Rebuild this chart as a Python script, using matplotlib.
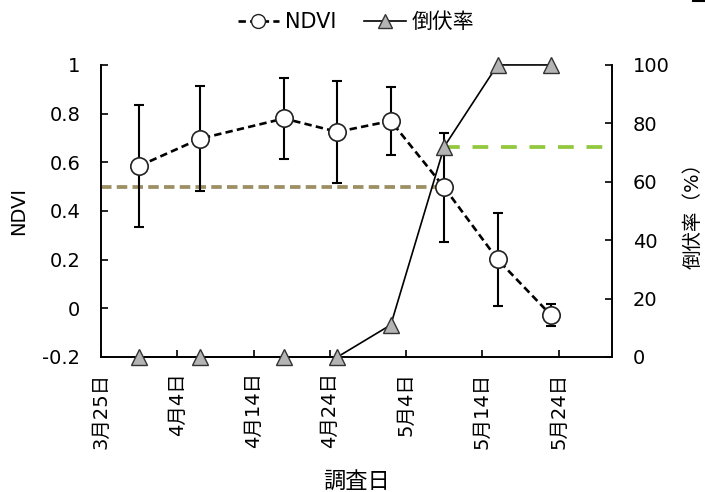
import datetime as dt
import matplotlib
matplotlib.use("Agg")
import matplotlib.pyplot as plt
import matplotlib.dates as mdates
from matplotlib.lines import Line2D
from matplotlib.ticker import FuncFormatter

plt.rcParams['font.family'] = ['DejaVu Sans', 'Noto Sans CJK JP']

# survey dates and measurements
survey_dates = ["2021-03-30", "2021-04-07", "2021-04-18", "2021-04-25",
                "2021-05-02", "2021-05-09", "2021-05-16", "2021-05-23"]
ndvi = [0.585, 0.697, 0.780, 0.725, 0.770, 0.497, 0.201, -0.028]
ndvi_err = [0.25, 0.215, 0.165, 0.21, 0.14, 0.225, 0.19, 0.045]
lodging = [0, 0, 0, 0, 11, 72, 100, 100]

# threshold lines
ndvi_threshold = 0.5
ndvi_threshold_end = "2021-05-08"
tick_dates = ["2021-03-25", "2021-04-04", "2021-04-14", "2021-04-24",
              "2021-05-04", "2021-05-14", "2021-05-24"]
x_end = "2021-05-31"

to_dt = lambda s: dt.datetime.strptime(s, "%Y-%m-%d")
x = [to_dt(s) for s in survey_dates]
ticks = [to_dt(s) for s in tick_dates]

fig = plt.figure(figsize=(7.05, 4.92), dpi=100)
ax1 = fig.add_axes([0.1433, 0.2744, 0.7247, 0.5936])
ax2 = ax1.twinx()

# NDVI with error bars
ax1.errorbar(x, ndvi, yerr=ndvi_err, fmt='none', ecolor='black',
             elinewidth=1.5, capsize=3.5, capthick=1.5, zorder=2)
ax1.plot(x, ndvi, color='black', linestyle=(0, (2.8, 1.6)), linewidth=1.9,
         marker='o', markersize=12.5, markerfacecolor='white',
         markeredgecolor='#222222', markeredgewidth=1.2, zorder=3)
ax1.plot([ticks[0], to_dt(ndvi_threshold_end)], [ndvi_threshold] * 2,
         color='#9c8f62', linestyle=(0, (2.8, 1.4)), linewidth=2.7, zorder=1)

# lodging rate on the right axis
ax2.plot(x, lodging, color='black', linewidth=1.2, marker='^',
         markersize=12, markerfacecolor='#b4b4b4', markeredgecolor='#333333',
         markeredgewidth=1.0, clip_on=False, zorder=3)
ax2.plot([x[5], to_dt(x_end)], [lodging[5]] * 2, color='#92c83e',
         linestyle=(0, (4.2, 3.4)), linewidth=2.7, zorder=1)

ax1.set_xlim(ticks[0], to_dt(x_end))
ax1.set_ylim(-0.2, 1)
ax1.set_yticks([-0.2, 0, 0.2, 0.4, 0.6, 0.8, 1])
ax1.yaxis.set_major_formatter(FuncFormatter(lambda v, p: f"{v:g}" if abs(v) > 1e-9 else "0"))
ax2.set_ylim(0, 100)
ax2.set_yticks([0, 20, 40, 60, 80, 100])

ax1.set_xticks(ticks)
ax1.xaxis.set_major_formatter(
    FuncFormatter(lambda v, p: "{}月{}日".format(mdates.num2date(v).month, mdates.num2date(v).day)))
for lbl in ax1.get_xticklabels():
    lbl.set_rotation(90)

for ax in (ax1, ax2):
    ax.tick_params(direction='in', length=5, width=1.2, labelsize=14, pad=15)
    for s in ax.spines.values():
        s.set_linewidth(1.2)
ax1.spines['top'].set_visible(False)
ax2.spines['top'].set_visible(False)
ax1.tick_params(axis='x', pad=11)

ax1.set_ylabel("NDVI", fontsize=14, labelpad=10)
ax2.set_ylabel("倒伏率（%）", fontsize=14, labelpad=10)
ax1.set_xlabel("調査日", fontsize=16, labelpad=16)

handles = [
    Line2D([], [], color='black', linestyle=(0, (2.8, 1.6)), linewidth=1.9, marker='o',
           markersize=10, markerfacecolor='white', markeredgecolor='#222222'),
    Line2D([], [], color='black', linewidth=1.2, marker='^', markersize=10,
           markerfacecolor='#b4b4b4', markeredgecolor='#333333'),
]
fig.legend(handles, ["NDVI", "倒伏率"], loc='center', bbox_to_anchor=(0.505, 0.955),
           ncol=2, frameon=False, fontsize=15, handlelength=2.0,
           handletextpad=0.3, columnspacing=1.3)

fig.add_artist(Line2D([0.983, 1.0], [0.998, 0.998], color='black', linewidth=1.5))

fig.savefig("out.png", dpi=100)
